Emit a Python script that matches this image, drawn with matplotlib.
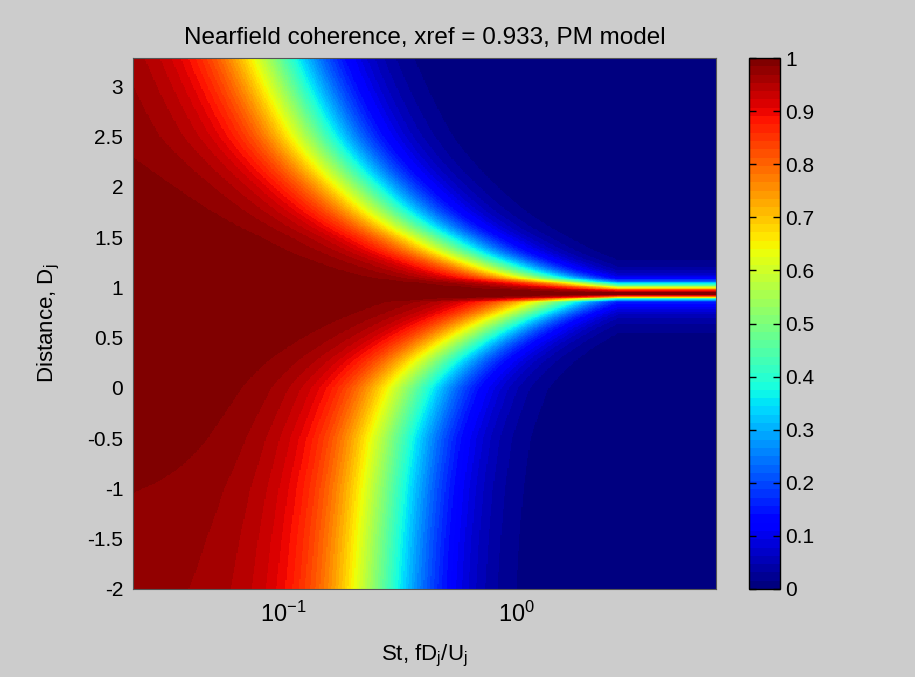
import numpy as np
import matplotlib
matplotlib.use("Agg")
import matplotlib.pyplot as plt
from matplotlib import font_manager

# ---------------- data ----------------
title = "Nearfield coherence, xref = 0.933, PM model"
xref = 0.933
st_range = [0.0229, 7.08]          # Strouhal range (x axis, log)
dist_range = [-2.0, 3.28]          # distance range (y axis)

# distance samples and the Strouhal number at which coherence drops to 0.5
dist_pts = [-2.0, -1.5, -1.0, -0.5, 0.0, 0.25, 0.5, 0.75, 0.85, 0.883,
            0.933, 0.983, 1.033, 1.066, 1.1, 1.25, 1.5, 2.0, 2.5, 3.28]
st_half = [0.27, 0.278, 0.29, 0.31, 0.37, 0.47, 0.68, 1.15, 1.5, 2.4,
           np.inf, 4.5, 2.4, 1.7, 1.3, 0.78, 0.45, 0.225, 0.145, 0.099]
# coherence level at the lowest Strouhal number (left edge)
coh_low = [0.978, 0.982, 0.987, 0.995, 1.0, 1.0, 1.0, 1.0, 1.0, 1.0,
           1.0, 1.0, 1.0, 1.0, 1.0, 1.0, 1.0, 0.995, 0.99, 0.99]
st_sat = 2.7        # beyond this Strouhal number the contours run flat
shape_exp = 2.5     # sharpness of the drop-off with St
tail_cut = 4.0      # relative St where the low-coherence tail dies out

yticks = [-2, -1.5, -1, -0.5, 0, 0.5, 1, 1.5, 2, 2.5, 3]
cbar_ticks = [0, 0.1, 0.2, 0.3, 0.4, 0.5, 0.6, 0.7, 0.8, 0.9, 1]

# ---------------- build field ----------------
st = np.logspace(np.log10(st_range[0]), np.log10(st_range[1]), 500)
dist = np.linspace(dist_range[0], dist_range[1], 700)
rate = np.interp(dist, dist_pts, 1.0 / np.array(st_half))
c0 = np.interp(dist, dist_pts, coh_low)
S, _ = np.meshgrid(np.minimum(st, st_sat), dist)
xr = S * rate[:, None]
coh = c0[:, None] / (1.0 + xr ** shape_exp) * np.exp(-(xr / tail_cut) ** 2)

# ---------------- plotting ----------------
names = {f.name for f in font_manager.fontManager.ttflist}
fam = "Liberation Sans Narrow" if "Liberation Sans Narrow" in names else "Liberation Sans"
plt.rcParams["font.family"] = [fam, "DejaVu Sans"]
plt.rcParams["axes.unicode_minus"] = False
plt.rcParams["mathtext.fontset"] = "custom"
plt.rcParams["mathtext.rm"] = fam
plt.rcParams["mathtext.it"] = fam
fs = 15

bg = "#cccccc"
fig = plt.figure(figsize=(9.15, 6.77), dpi=100, facecolor=bg)
W, H = 915, 677
ax = fig.add_axes([133 / W, (H - 589) / H, (716 - 133) / W, (589 - 58) / H])
cmap = plt.get_cmap("jet", 64)
mesh = ax.pcolormesh(st, dist, coh, cmap=cmap, vmin=0, vmax=1, shading="auto",
                     rasterized=True)
ax.set_xscale("log")
ax.set_xlim(st_range)
ax.set_ylim(dist_range)
ax.set_xticks([0.1, 1])
ax.set_xticklabels([r"$10^{-1}$", r"$10^{0}$"])
ax.xaxis.set_minor_locator(matplotlib.ticker.NullLocator())
ax.set_yticks(yticks)
ax.set_yticklabels([f"{v:g}" for v in yticks])
ax.tick_params(length=0, labelsize=fs, pad=7)
ax.tick_params(axis="x", labelsize=17, pad=9)
for s in ax.spines.values():
    s.set_color("#555555")
    s.set_linewidth(0.8)
ax.set_title(title, fontsize=17.5, pad=10)
ax.set_xlabel(r"St, fD$_\mathregular{j}$/U$_\mathregular{j}$", fontsize=16, labelpad=12)
ax.set_ylabel(r"Distance, D$_\mathregular{j}$", fontsize=16, labelpad=18)

cax = fig.add_axes([749 / W, (H - 589) / H, (780 - 749) / W, (589 - 58) / H])
cb = fig.colorbar(mesh, cax=cax, ticks=cbar_ticks)
cb.ax.set_yticklabels([f"{v:g}" for v in cbar_ticks])
cax.tick_params(direction="in", left=True, right=True, length=5, width=1,
                labelsize=fs, pad=4)
cb.outline.set_linewidth(1)

fig.savefig("out.png", dpi=100, facecolor=bg)
